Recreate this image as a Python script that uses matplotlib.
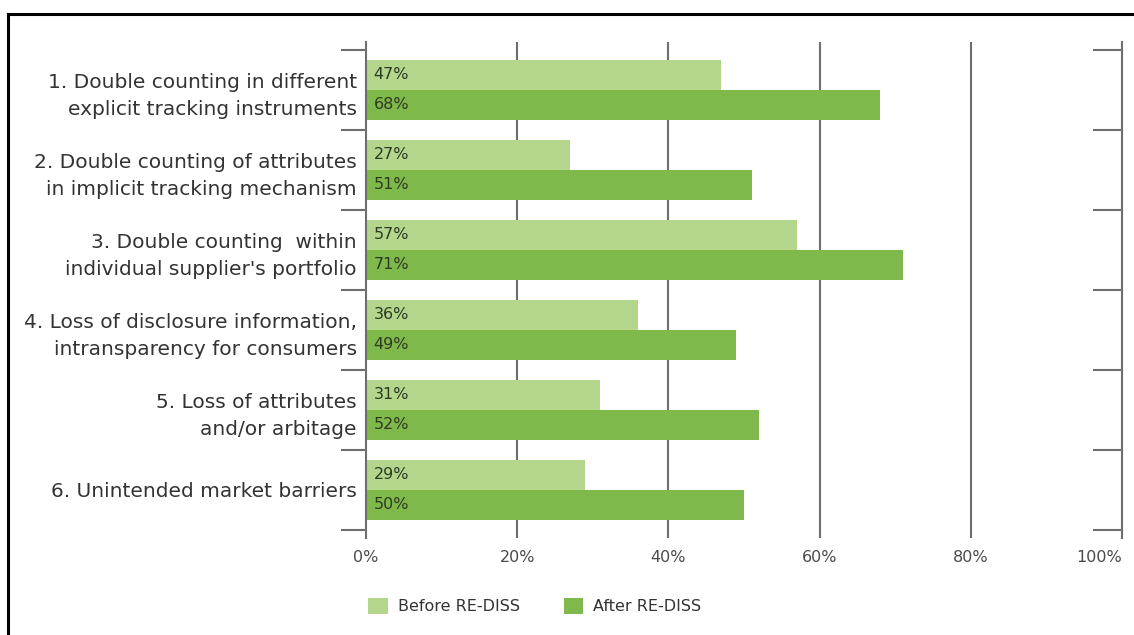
import matplotlib
matplotlib.use("Agg")
import matplotlib.pyplot as plt
from matplotlib.lines import Line2D
from matplotlib.patches import Patch
import numpy as np

categories = [
    "1. Double counting in different\nexplicit tracking instruments",
    "2. Double counting of attributes\nin implicit tracking mechanism",
    "3. Double counting  within\nindividual supplier's portfolio",
    "4. Loss of disclosure information,\nintransparency for consumers",
    "5. Loss of attributes\nand/or arbitage",
    "6. Unintended market barriers",
]
before = [47, 27, 57, 36, 31, 29]
after = [68, 51, 71, 49, 52, 50]
series_names = ["Before RE-DISS", "After RE-DISS"]
xticks = [0, 20, 40, 60, 80, 100]
xtick_labels = ["0%", "20%", "40%", "60%", "80%", "100%"]

c_light = "#b3d58c"
c_dark = "#80b94b"
txt = "#333333"
grid_c = "#6e6e6e"

W, H = 1134, 635
fig = plt.figure(figsize=(W / 100, H / 100), dpi=100)
fig.patch.set_facecolor("white")
plt.rcParams['font.family'] = ['DejaVu Sans']

ax = fig.add_axes([366 / W, (H - 538) / H, (1122 - 366) / W, (538 - 42) / H])
ax.set_facecolor("white")

n = len(categories)
y = np.arange(n)
bh = 0.375
ax.barh(y - bh / 2, before, height=bh, color=c_light, zorder=2)
ax.barh(y + bh / 2, after, height=bh, color=c_dark, zorder=2)

for i in range(n):
    ax.text(1.0, y[i] - bh / 2, f"{before[i]}%", va="center", ha="left",
            fontsize=11.5, color="#2e3a22", zorder=3)
    ax.text(1.0, y[i] + bh / 2, f"{after[i]}%", va="center", ha="left",
            fontsize=11.5, color="#2e3a22", zorder=3)

ax.set_xlim(0, 100)
ax.set_ylim(n - 0.4, -0.6)

# gridlines
for xv in xticks[1:-1]:
    ax.axvline(xv, color=grid_c, lw=1.5, zorder=1)

for s in ["top", "bottom"]:
    ax.spines[s].set_visible(False)
for s in ["left", "right"]:
    ax.spines[s].set_color(grid_c)
    ax.spines[s].set_linewidth(1.5)

ax.set_xticks(xticks)
ax.set_xticklabels(xtick_labels, fontsize=11.5, color="#4a4a4a")
ax.tick_params(axis="x", length=0, pad=9)
ax.get_xticklabels()[-1].set_horizontalalignment("right")

seps = np.arange(-0.5, n, 1.0)
ax.set_yticks(seps)
ax.set_yticklabels([])
ax.tick_params(axis="y", which="major", direction="out", length=18, width=1.5,
               color=grid_c, left=True, right=False)
ax.set_yticks(y, minor=True)
ax.set_yticklabels(categories, minor=True, fontsize=14.5, color=txt, ha="right")
ax.tick_params(axis="y", which="minor", length=0, pad=6.5)
for lbl in ax.get_yticklabels(minor=True):
    lbl.set_linespacing(1.55)

ax2 = ax.twinx()
ax2.set_ylim(ax.get_ylim())
ax2.set_yticks(seps)
ax2.set_yticklabels([])
ax2.tick_params(axis="y", direction="in", length=21, width=1.5, color=grid_c)
for s in ax2.spines.values():
    s.set_visible(False)

# outer frame (left and top)
fig.add_artist(Line2D([8 / W, 8 / W], [0, (H - 14) / H], color="black", lw=2.2))
fig.add_artist(Line2D([8 / W, 1], [(H - 14) / H, (H - 14) / H], color="black", lw=2.2))

handles = [Patch(facecolor=c_light, edgecolor="none"), Patch(facecolor=c_dark, edgecolor="none")]
fig.legend(handles, series_names, loc="center left", bbox_to_anchor=(354 / W, 29 / H),
           ncol=2, frameon=False, fontsize=11.5, handlelength=1.2, handleheight=1.2,
           handletextpad=0.65, columnspacing=2.75, labelcolor=txt)

fig.savefig("out.png", dpi=100, facecolor="white")
